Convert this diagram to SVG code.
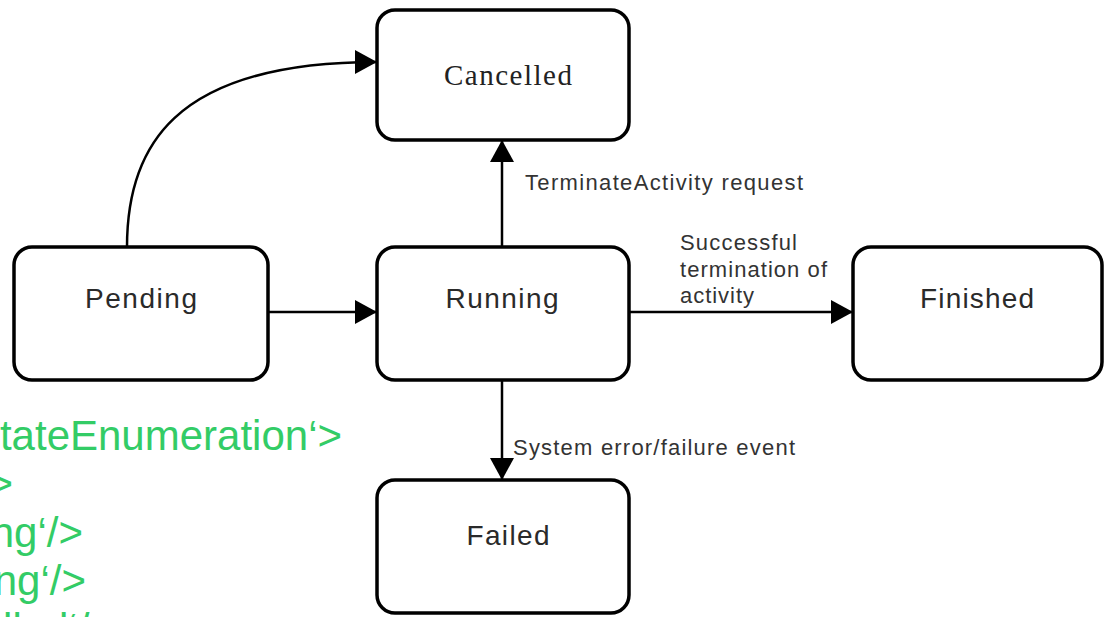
<svg xmlns="http://www.w3.org/2000/svg" width="1111" height="617" viewBox="0 0 1111 617">
<style>
.box{fill:#fff;stroke:#000;stroke-width:3.5}
.nt{font-family:"Liberation Sans",Arial,sans-serif;font-size:28px;fill:#2a2a2a;text-anchor:middle}
.st{font-family:"Liberation Serif","Times New Roman",serif;font-size:29px;fill:#222;text-anchor:middle}
.lb{font-family:"Liberation Sans",Arial,sans-serif;font-size:22px;fill:#333}
.cn{fill:none;stroke:#000;stroke-width:2.5}
.gr{font-family:"Liberation Sans",Arial,sans-serif;font-size:42px;fill:#33cc66;text-anchor:end}
</style>
<defs>
<marker id="ah" markerUnits="userSpaceOnUse" markerWidth="24" markerHeight="26" refX="22" refY="12" orient="auto">
<path d="M0,0 L22,12 L0,24 Z" fill="#000"/>
</marker>
</defs>
<rect width="1111" height="617" fill="#fff"/>
<g id="connectors">
<path class="cn" d="M127,247 C127,150 170,62 377,62" marker-end="url(#ah)"/>
<path class="cn" d="M268,312 L377,312" marker-end="url(#ah)"/>
<path class="cn" d="M502,247 L502,140" marker-end="url(#ah)"/>
<path class="cn" d="M629,312 L853,312" marker-end="url(#ah)"/>
<path class="cn" d="M502,380 L502,480" marker-end="url(#ah)"/>
<text class="lb" x="525" y="190" textLength="278" lengthAdjust="spacing">TerminateActivity request</text>
<text class="lb" x="680" y="250" textLength="117" lengthAdjust="spacing">Successful</text>
<text class="lb" x="680" y="277" textLength="147" lengthAdjust="spacing">termination of</text>
<text class="lb" x="680" y="303" textLength="74" lengthAdjust="spacing">activity</text>
<text class="lb" x="513" y="455" textLength="282" lengthAdjust="spacing">System error/failure event</text>
</g>
<g id="node-cancelled">
<rect class="box" x="377" y="10" width="252" height="130" rx="18"/>
<text class="st" x="508" y="85" textLength="128" lengthAdjust="spacing">Cancelled</text>
</g>
<g id="node-pending">
<rect class="box" x="14" y="247" width="254" height="133" rx="18"/>
<text class="nt" x="141" y="308" textLength="112" lengthAdjust="spacing">Pending</text>
</g>
<g id="node-running">
<rect class="box" x="377" y="247" width="252" height="133" rx="18"/>
<text class="nt" x="502" y="308" textLength="113" lengthAdjust="spacing">Running</text>
</g>
<g id="node-finished">
<rect class="box" x="853" y="247" width="249" height="133" rx="18"/>
<text class="nt" x="977" y="308" textLength="114" lengthAdjust="spacing">Finished</text>
</g>
<g id="node-failed">
<rect class="box" x="377" y="480" width="252" height="133" rx="18"/>
<text class="nt" x="508" y="545" textLength="83" lengthAdjust="spacing">Failed</text>
</g>
<g id="overlay-text">
<text class="gr" x="342" y="450">tateEnumeration‘&gt;</text>
<text class="gr" x="13" y="498">&gt;</text>
<text class="gr" x="83" y="547">ng‘/&gt;</text>
<text class="gr" x="86" y="595">ng‘/&gt;</text>
<text class="gr" x="114" y="643">lled‘/&gt;</text>
</g>
</svg>
